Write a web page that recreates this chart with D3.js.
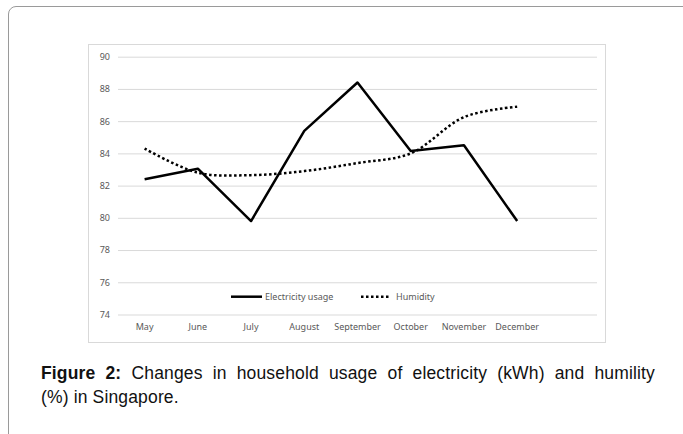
<!DOCTYPE html>
<html>
<head>
  <script src="https://d3js.org/d3.v7.min.js"></script>
  <style>
    body { margin: 0; background: #fff; width: 683px; height: 434px; overflow: hidden; position: relative; }
    .card {
      position: absolute; left: 8px; top: 6px; width: 690px; height: 460px;
      border: 1.5px solid #9a9a9a; border-top-left-radius: 8px; border-top-right-radius: 3px;
    }
    #chart { position: absolute; left: 0; top: 0; }
    .caption {
      position: absolute; left: 41px; width: 614px;
      font-family: "Liberation Sans", Arial, sans-serif; font-size: 17.5px; line-height: 24px;
      letter-spacing: 0.15px; color: #111; white-space: nowrap;
    }
    .caption.l1 { top: 361px; text-align: justify; text-align-last: justify; white-space: normal; }
    .caption.l2 { top: 385px; }
    .tick text, .lbl { font-family: "Noto Sans", sans-serif; font-size: 9px; fill: #595959; }
  </style>
</head>
<body>
  <div class="card"></div>
  <svg id="chart" width="683" height="434"></svg>
  <div class="caption l1"><b>Figure 2:</b> Changes in household usage of electricity (kWh) and humility</div>
  <div class="caption l2">(%) in Singapore.</div>

  <script>
    var months = ['May', 'June', 'July', 'August', 'September', 'October', 'November', 'December'];
    var electricity = [82.4, 83.05, 79.8, 85.4, 88.4, 84.15, 84.5, 79.8];
    var humidity = [84.3, 82.8, 82.65, 82.9, 83.4, 84.0, 86.25, 86.9];
    var yTicks = [74, 76, 78, 80, 82, 84, 86, 88, 90];

    var svg = d3.select('#chart');

    // chart frame
    svg.append('rect')
      .attr('x', 88.5).attr('y', 44.5)
      .attr('width', 517).attr('height', 298)
      .attr('fill', 'none').attr('stroke', '#d9d9d9');

    var plotLeft = 118, plotRight = 597, plotTop = 56.7, plotBottom = 314.5;

    // one empty slot on the right, like the original plot
    var x = d3.scaleBand()
      .domain(months.concat(['']))
      .range([plotLeft, plotRight]);

    var y = d3.scaleLinear()
      .domain([74, 90])
      .range([plotBottom, plotTop]);

    var xc = function(d) { return x(d) + x.bandwidth() / 2; };

    var yAxis = svg.append('g')
      .attr('transform', 'translate(' + plotLeft + ',0)')
      .call(d3.axisLeft(y).tickValues(yTicks).tickSize(-(plotRight - plotLeft)).tickPadding(8).tickFormat(d3.format('d')));
    yAxis.select('.domain').remove();
    yAxis.selectAll('.tick line').attr('stroke', '#d9d9d9');

    var xAxis = svg.append('g')
      .attr('transform', 'translate(0,' + plotBottom + ')')
      .call(d3.axisBottom(x).tickValues(months).tickSize(0).tickPadding(9));
    xAxis.select('.domain').remove();

    var line = d3.line()
      .x(function(d, i) { return xc(months[i]); })
      .y(function(d) { return y(d); });

    svg.append('path')
      .datum(humidity)
      .attr('fill', 'none')
      .attr('stroke', '#000')
      .attr('stroke-width', 2.5)
      .attr('stroke-dasharray', '2.5,2.5')
      .attr('d', line.curve(d3.curveCatmullRom.alpha(0.5)));

    svg.append('path')
      .datum(electricity)
      .attr('fill', 'none')
      .attr('stroke', '#000')
      .attr('stroke-width', 2.5)
      .attr('stroke-linejoin', 'round')
      .attr('d', line.curve(d3.curveLinear));

    // legend
    var ly = 296.7;
    svg.append('line')
      .attr('x1', 231).attr('x2', 262).attr('y1', ly).attr('y2', ly)
      .attr('stroke', '#000').attr('stroke-width', 2.5);
    svg.append('text').attr('class', 'lbl')
      .attr('x', 265).attr('y', ly).attr('dy', '0.35em')
      .text('Electricity usage');
    svg.append('line')
      .attr('x1', 361).attr('x2', 390).attr('y1', ly).attr('y2', ly)
      .attr('stroke', '#000').attr('stroke-width', 2.5)
      .attr('stroke-dasharray', '2.5,2.5');
    svg.append('text').attr('class', 'lbl')
      .attr('x', 396).attr('y', ly).attr('dy', '0.35em')
      .text('Humidity');
  </script>
</body>
</html>
